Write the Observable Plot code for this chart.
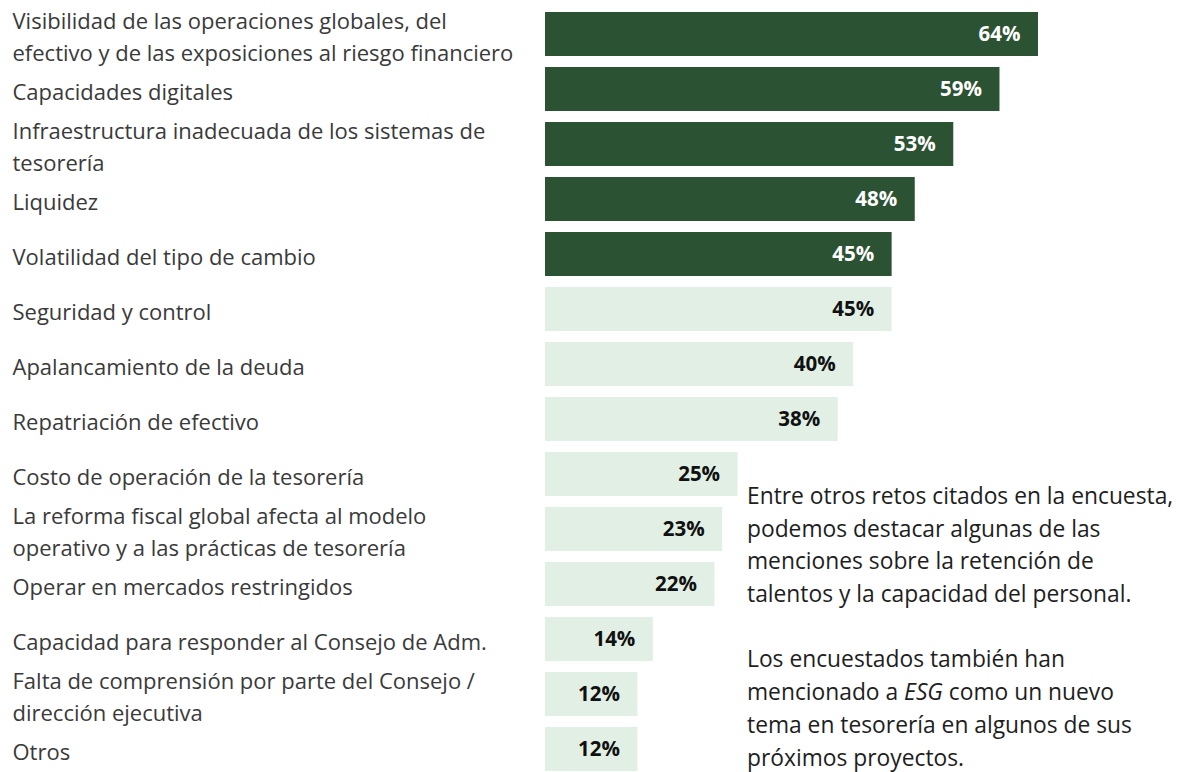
<!DOCTYPE html>
<html>
<head>
<meta charset="utf-8">
<script src="https://cdn.jsdelivr.net/npm/d3@7"></script>
<script src="https://cdn.jsdelivr.net/npm/@observablehq/plot@0.6"></script>
<style>
  html, body { margin: 0; padding: 0; background: #fff; }
  #wrap { position: relative; width: 1180px; height: 772px; overflow: hidden; }
  #note {
    position: absolute; left: 747px; top: 480px;
    font-family: "Open Sans", Lato, sans-serif; font-size: 22.8px; line-height: 32.7px;
    color: #1e1e1e; white-space: nowrap;
  }
  #note div { height: 32.7px; }
</style>
</head>
<body>
<div id="wrap">
  <div id="chart"></div>
  <div id="note">
    <div>Entre otros retos citados en la encuesta,</div>
    <div>podemos destacar algunas de las</div>
    <div>menciones sobre la retención de</div>
    <div>talentos y la capacidad del personal.</div>
    <div></div>
    <div>Los encuestados también han</div>
    <div><span>mencionado a </span><i>ESG</i><span> como un nuevo</span></div>
    <div>tema en tesorería en algunos de sus</div>
    <div>próximos proyectos.</div>
  </div>
</div>
<script>
const categories = [
  "Visibilidad de las operaciones globales, del\nefectivo y de las exposiciones al riesgo financiero",
  "Capacidades digitales",
  "Infraestructura inadecuada de los sistemas de\ntesorería",
  "Liquidez",
  "Volatilidad del tipo de cambio",
  "Seguridad y control",
  "Apalancamiento de la deuda",
  "Repatriación de efectivo",
  "Costo de operación de la tesorería",
  "La reforma fiscal global afecta al modelo\noperativo y a las prácticas de tesorería",
  "Operar en mercados restringidos",
  "Capacidad para responder al Consejo de Adm.",
  "Falta de comprensión por parte del Consejo /\ndirección ejecutiva",
  "Otros"
];
const values = [64, 59, 53, 48, 45, 45, 40, 38, 25, 23, 22, 14, 12, 12];
const groups = ["top","top","top","top","top","other","other","other","other","other","other","other","other","other"];

const data = categories.map((c, i) => ({category: c, value: values[i], group: groups[i]}));

const chart = Plot.plot({
  width: 1180,
  height: 772,
  marginLeft: 0, marginRight: 0, marginTop: 0, marginBottom: 0,
  style: {fontFamily: "'Open Sans', Lato, sans-serif", background: "#fff"},
  x: {domain: [0, 64], range: [545, 1038], axis: null},
  y: {domain: categories, range: [0, 782], padding: 0.2, axis: null},
  color: {domain: ["top", "other"], range: ["#2c5234", "#e2efe5"]},
  marks: [
    Plot.barX(data, {x: "value", y: "category", fill: "group"}),
    Plot.text(data, {
      x: "value", y: "category", text: d => d.value + "%",
      textAnchor: "end", dx: -18, fontWeight: "bold", fontSize: 20.5,
      fill: d => d.group === "top" ? "#ffffff" : "#111111"
    }),
    Plot.text(data, {
      y: "category", text: "category", frameAnchor: "left", dx: 12,
      textAnchor: "start", fontSize: 22, lineHeight: 1.455, fill: "#3a3a3a"
    })
  ]
});
document.getElementById("chart").appendChild(chart);
</script>
</body>
</html>
